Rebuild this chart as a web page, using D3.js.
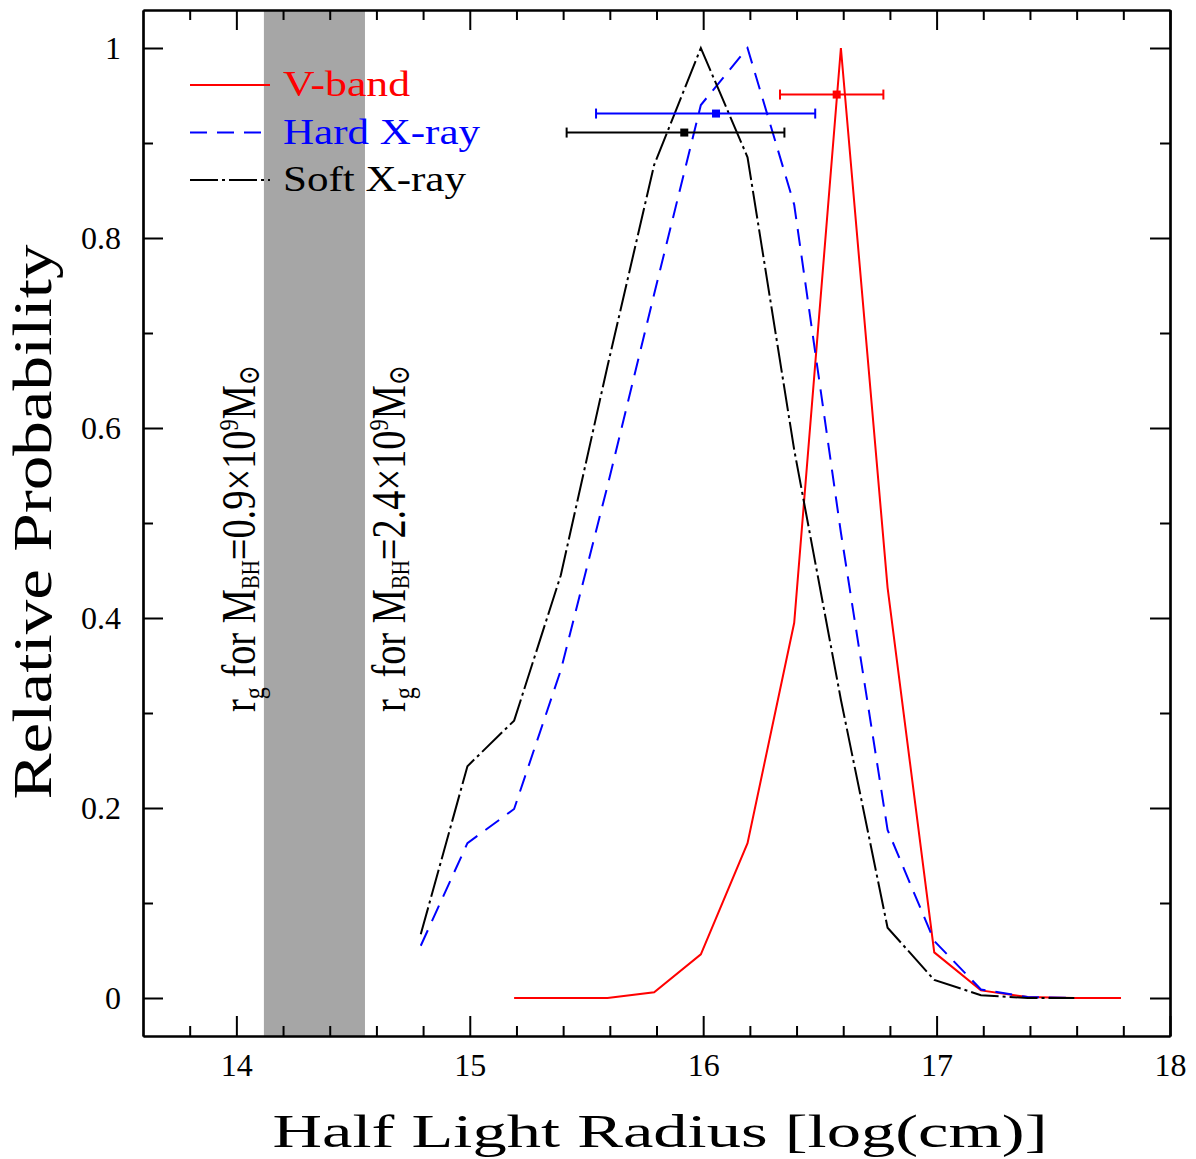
<!DOCTYPE html>
<html>
<head>
<meta charset="utf-8">
<script src="https://cdn.jsdelivr.net/npm/d3@7"></script>
<style>
  body { margin: 0; background: #fff; }
  text { font-family: "Liberation Serif", "DejaVu Serif", serif; }
</style>
</head>
<body>
<script>
// curves: relative probability vs log half light radius
var softRadius = [14.79, 14.99, 15.19, 15.39, 15.59, 15.79, 15.99, 16.19, 16.39, 16.59, 16.79, 16.99, 17.19, 17.39, 17.59];
var softProb   = [0.067, 0.244, 0.292, 0.445, 0.665, 0.877, 1.0, 0.885, 0.577, 0.314, 0.074, 0.019, 0.003, 0.0, 0.0];

var hardRadius = [14.79, 14.99, 15.19, 15.39, 15.59, 15.79, 15.99, 16.19, 16.39, 16.59, 16.79, 16.99, 17.19, 17.39, 17.59];
var hardProb   = [0.055, 0.163, 0.199, 0.345, 0.539, 0.741, 0.94, 1.0, 0.835, 0.49, 0.177, 0.06, 0.009, 0.001, 0.0];

var vRadius = [15.19, 15.39, 15.59, 15.79, 15.99, 16.19, 16.39, 16.59, 16.79, 16.99, 17.19, 17.39, 17.59, 17.79];
var vProb   = [0, 0, 0, 0.006, 0.046, 0.163, 0.395, 1.0, 0.432, 0.048, 0.008, 0.001, 0, 0];

// best values with error range
var bestNames = ["V-band", "Hard X-ray", "Soft X-ray"];
var bestCenter = [16.572, 16.055, 15.919];
var bestLow = [16.329, 15.541, 15.415];
var bestHigh = [16.772, 16.480, 16.348];
var bestLevel = [0.951, 0.931, 0.911];

// r_g range for the two black hole masses
var rgBand = [14.118, 14.551];
var rgLabels = [["0.9", "×10", "9"], ["2.4", "×10", "9"]];

var xTicks = [14, 15, 16, 17, 18];
var yTicks = [0, 0.2, 0.4, 0.6, 0.8, 1];

var W = 1196, H = 1159;
var plotLeft = 143, plotRight = 1170, plotTop = 10, plotBottom = 1036;

var svg = d3.select("body").append("svg")
  .attr("width", W)
  .attr("height", H);

var x = d3.scaleLinear().domain([13.6, 18]).range([plotLeft, plotRight]);
var y = d3.scaleLinear().domain([-0.04, 1.04]).range([plotBottom, plotTop]);

var xMinor = d3.range(13.8, 18.0, 0.2).map(function (d) { return +d.toFixed(1); })
  .filter(function (d) { return xTicks.indexOf(d) < 0; });
var yMinor = d3.range(0.1, 1.01, 0.2).map(function (d) { return +d.toFixed(1); });

// grey band
svg.append("rect")
  .attr("x", x(rgBand[0]))
  .attr("y", plotTop)
  .attr("width", x(rgBand[1]) - x(rgBand[0]))
  .attr("height", plotBottom - plotTop)
  .style("fill", "#a6a6a6");

/*
* axes, ticks inside on all four sides
*/
function styleAxis(g) {
  g.selectAll("path.domain").attr("stroke-width", 2.2);
  g.selectAll(".tick line").attr("stroke-width", 2);
  g.selectAll(".tick text").attr("font-size", 32).attr("fill", "#000")
    .style("font-family", "Liberation Serif");
}

var yFmt = d3.format("~g");
var xFmt = d3.format("d");

svg.append("g").attr("transform", "translate(0," + plotBottom + ")")
  .call(d3.axisBottom(x).tickValues(xTicks).tickSizeInner(-20).tickSizeOuter(0).tickPadding(17).tickFormat(xFmt))
  .call(styleAxis);
svg.append("g").attr("transform", "translate(0," + plotBottom + ")")
  .call(d3.axisBottom(x).tickValues(xMinor).tickSizeInner(-10).tickSizeOuter(0).tickFormat(""))
  .call(styleAxis);
svg.append("g").attr("transform", "translate(0," + plotTop + ")")
  .call(d3.axisTop(x).tickValues(xTicks).tickSizeInner(-20).tickSizeOuter(0).tickFormat(""))
  .call(styleAxis);
svg.append("g").attr("transform", "translate(0," + plotTop + ")")
  .call(d3.axisTop(x).tickValues(xMinor).tickSizeInner(-10).tickSizeOuter(0).tickFormat(""))
  .call(styleAxis);

svg.append("g").attr("transform", "translate(" + plotLeft + ",0)")
  .call(d3.axisLeft(y).tickValues(yTicks).tickSizeInner(-20).tickSizeOuter(0).tickPadding(22).tickFormat(yFmt))
  .call(styleAxis);
svg.append("g").attr("transform", "translate(" + plotLeft + ",0)")
  .call(d3.axisLeft(y).tickValues(yMinor).tickSizeInner(-10).tickSizeOuter(0).tickFormat(""))
  .call(styleAxis);
svg.append("g").attr("transform", "translate(" + plotRight + ",0)")
  .call(d3.axisRight(y).tickValues(yTicks).tickSizeInner(-20).tickSizeOuter(0).tickFormat(""))
  .call(styleAxis);
svg.append("g").attr("transform", "translate(" + plotRight + ",0)")
  .call(d3.axisRight(y).tickValues(yMinor).tickSizeInner(-10).tickSizeOuter(0).tickFormat(""))
  .call(styleAxis);

// axis titles
svg.append("text")
  .attr("x", 660).attr("y", 1147)
  .attr("text-anchor", "middle")
  .attr("font-size", 46)
  .attr("textLength", 775)
  .attr("lengthAdjust", "spacingAndGlyphs")
  .text("Half Light Radius [log(cm)]");

svg.append("text")
  .attr("transform", "translate(51,522) rotate(-90)")
  .attr("text-anchor", "middle")
  .attr("font-size", 54)
  .attr("textLength", 555)
  .attr("lengthAdjust", "spacingAndGlyphs")
  .text("Relative Probability");

/*
* curves
*/
var series = [
  { name: "V-band", r: vRadius, p: vProb, color: "#ff0000", dash: null, len: 127 },
  { name: "Hard X-ray", r: hardRadius, p: hardProb, color: "#0000ff", dash: "17,10", len: 197 },
  { name: "Soft X-ray", r: softRadius, p: softProb, color: "#000000", dash: "28,4,3,4", len: 183 }
];

var line = d3.line()
  .x(function (d) { return x(d[0]); })
  .y(function (d) { return y(d[1]); });

series.forEach(function (s) {
  svg.append("path")
    .datum(d3.zip(s.r, s.p))
    .attr("d", line)
    .style("fill", "none")
    .style("stroke", s.color)
    .style("stroke-width", 2)
    .style("stroke-dasharray", s.dash);
});

// error bars with the best value
bestNames.forEach(function (name, i) {
  var c = series[i].color;
  var yy = y(bestLevel[i]);
  var g = svg.append("g").style("stroke", c).style("stroke-width", 2);
  g.append("line").attr("x1", x(bestLow[i])).attr("x2", x(bestHigh[i])).attr("y1", yy).attr("y2", yy);
  g.append("line").attr("x1", x(bestLow[i])).attr("x2", x(bestLow[i])).attr("y1", yy - 5).attr("y2", yy + 5);
  g.append("line").attr("x1", x(bestHigh[i])).attr("x2", x(bestHigh[i])).attr("y1", yy - 5).attr("y2", yy + 5);
  svg.append("rect")
    .attr("x", x(bestCenter[i]) - 4).attr("y", yy - 4)
    .attr("width", 8).attr("height", 8)
    .style("fill", c);
});

// legend
series.forEach(function (s, i) {
  var ly = 85 + i * 47.5;
  svg.append("line")
    .attr("x1", 190).attr("x2", 270).attr("y1", ly).attr("y2", ly)
    .style("stroke", s.color)
    .style("stroke-width", 2)
    .style("stroke-dasharray", s.dash);
  svg.append("text")
    .attr("x", 283).attr("y", ly + 11)
    .attr("font-size", 35)
    .attr("textLength", s.len)
    .attr("lengthAdjust", "spacingAndGlyphs")
    .style("fill", s.color)
    .text(s.name);
});

// rotated r_g labels on each side of the band
var labelX = [255, 405];
rgLabels.forEach(function (lab, i) {
  var g = svg.append("g")
    .attr("transform", "translate(" + labelX[i] + ",712) rotate(-90)");
  var t = g.append("text").attr("font-size", 48);
  t.append("tspan").text("r");
  t.append("tspan").attr("font-size", 30).attr("dy", 9).text("g");
  t.append("tspan").attr("dy", -9).text(" for M");
  t.append("tspan").attr("font-size", 26).attr("dy", 4).text("BH");
  t.append("tspan").attr("dy", -4).text("=" + lab[0] + lab[1]);
  t.append("tspan").attr("font-size", 28).attr("dy", -17).text(lab[2]);
  t.append("tspan").attr("dy", 17).text("M");
  t.append("tspan").attr("font-size", 30).attr("dy", 4).text("⊙");
  var len = t.node().getComputedTextLength();
  t.attr("transform", "scale(" + (347 / len) + ",1)");
});
</script>
</body>
</html>
